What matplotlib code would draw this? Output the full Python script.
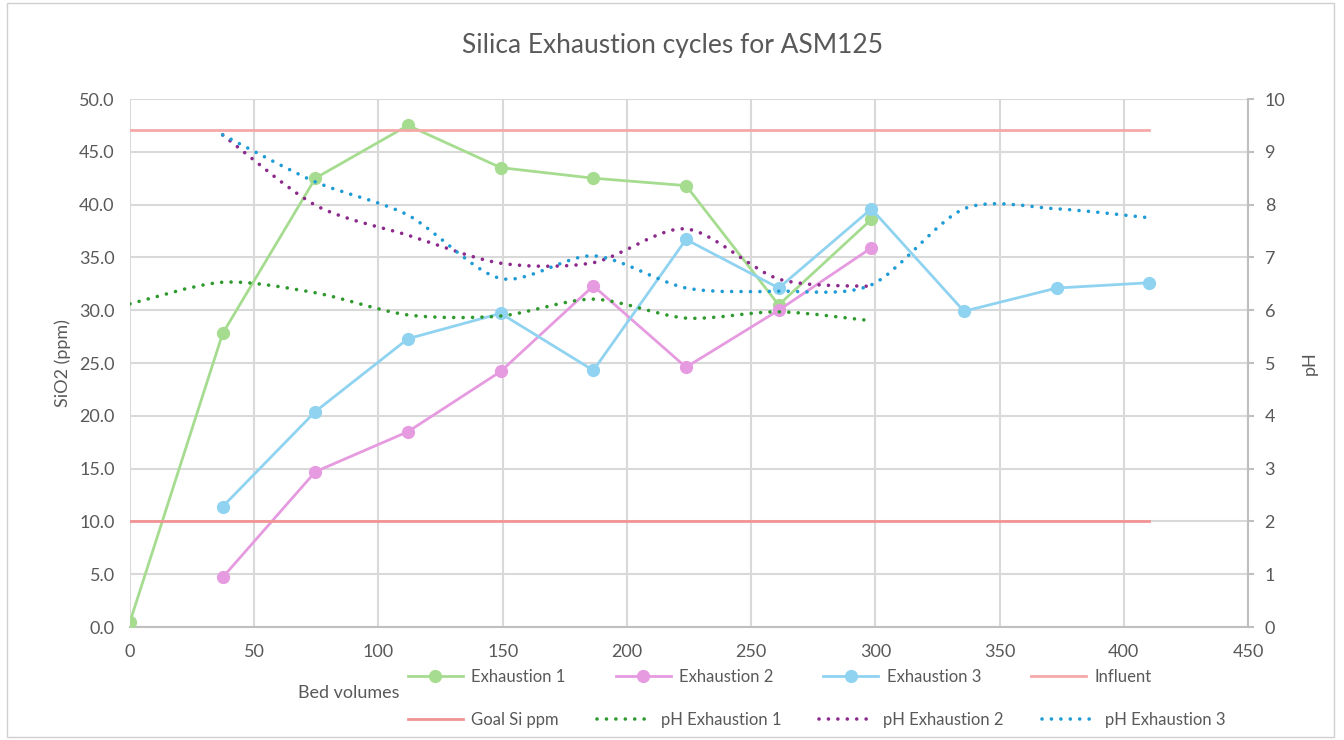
import numpy as np
import matplotlib
matplotlib.use("Agg")
import matplotlib.pyplot as plt
from matplotlib.path import Path
from matplotlib.patches import PathPatch, Rectangle
from matplotlib.lines import Line2D

plt.rcParams['font.family'] = ['Lato', 'DejaVu Sans']

bed_volumes = [0, 37.3, 74.6, 111.9, 149.2, 186.5, 223.8, 261.1, 298.4, 335.7, 373.0, 410.3]

exh1 = [0.5, 27.8, 42.5, 47.5, 43.5, 42.5, 41.8, 30.5, 38.6]
exh2 = [4.7, 14.7, 18.5, 24.2, 32.3, 24.6, 30.0, 35.9]
exh3 = [11.4, 20.4, 27.3, 29.7, 24.3, 36.7, 32.1, 39.6, 29.9, 32.1, 32.6]
influent = [47.1] * 12
goal = [10.0] * 12

ph1 = [6.12, 6.53, 6.33, 5.91, 5.89, 6.21, 5.85, 5.97, 5.80]
ph2 = [9.32, 7.99, 7.42, 6.89, 6.90, 7.54, 6.59, 6.45]
ph3 = [9.32, 8.43, 7.80, 6.60, 7.03, 6.42, 6.36, 6.48, 7.92, 7.92, 7.75]

GREEN = '#a6dc90'
PINK = '#e69be0'
BLUE = '#8fd3f1'
INFL = '#f5a8a8'
GOAL = '#f29494'
PH1 = '#2e9a2e'
PH2 = '#8c2a8c'
PH3 = '#1f9bd6'
GRID = '#d9d9d9'
TXT = '#595959'


def smooth_path(x, y):
    # Excel-like smoothed line: Catmull-Rom segments as cubic Beziers
    pts = np.column_stack([x, y]).astype(float)
    n = len(pts)
    verts = [pts[0]]
    codes = [Path.MOVETO]
    for i in range(n - 1):
        p0 = pts[i - 1] if i > 0 else pts[i]
        p1, p2 = pts[i], pts[i + 1]
        p3 = pts[i + 2] if i + 2 < n else pts[i + 1]
        verts += [p1 + (p2 - p0) / 7, p2 - (p3 - p1) / 7, p2]
        codes += [Path.CURVE4] * 3
    return Path(verts, codes)


fig = plt.figure(figsize=(13.44, 7.40), dpi=100)
fig.patches.append(Rectangle((7 / 1344, 3 / 740), 1327 / 1344, 734 / 740, transform=fig.transFigure,
                             fill=False, edgecolor='#d0d0d0', linewidth=1))
ax = fig.add_axes([130 / 1344, 1 - 627 / 740, 1118 / 1344, 528 / 740])
ax2 = ax.twinx()

line_kw = dict(linewidth=2.0, marker='o', markersize=8.5)
ax.plot(bed_volumes[:9], exh1, color=GREEN, **line_kw, zorder=3)
ax.plot(bed_volumes[1:9], exh2, color=PINK, **line_kw, zorder=3)
ax.plot(bed_volumes[1:], exh3, color=BLUE, **line_kw, zorder=3)
ax.plot(bed_volumes, influent, color=INFL, linewidth=2.0, zorder=4)
ax.plot(bed_volumes, goal, color=GOAL, linewidth=2.0, zorder=4)

dot = (0, (0.01, 2.6))
for xs, ys, c in [(bed_volumes[:9], ph1, PH1), (bed_volumes[1:9], ph2, PH2), (bed_volumes[1:], ph3, PH3)]:
    ax2.add_patch(PathPatch(smooth_path(xs, ys), fill=False, edgecolor=c, linewidth=2.6,
                            linestyle=dot, capstyle='round'))

ax.set_xlim(0, 450)
ax.set_ylim(0, 50)
ax2.set_ylim(0, 10)
ax.set_xticks(np.arange(0, 451, 50))
ax.set_yticks(np.arange(0, 50.1, 5))
ax.set_yticklabels([f'{v:.1f}' for v in np.arange(0, 50.1, 5)])
ax2.set_yticks(np.arange(0, 11, 1))

ax.grid(True, color=GRID, linewidth=1.5)
ax.set_axisbelow(True)
for s in ['top', 'left', 'right']:
    ax.spines[s].set_visible(False)
ax.spines['bottom'].set_color('#bfbfbf')
ax.spines['bottom'].set_linewidth(1.5)
for s in ['top', 'left', 'bottom']:
    ax2.spines[s].set_visible(False)
ax2.spines['right'].set_color('#bfbfbf')
ax2.spines['right'].set_linewidth(1.5)

ax.tick_params(axis='x', length=0, pad=12, labelsize=13, labelcolor=TXT)
ax.tick_params(axis='y', length=0, pad=11, labelsize=13, labelcolor=TXT)
ax2.tick_params(axis='y', length=4, width=1.5, color='#bfbfbf', pad=8, labelsize=13, labelcolor=TXT)

ax.set_ylabel('SiO2 (ppm)', fontsize=13, color=TXT, labelpad=6)
ax2.set_ylabel('pH', fontsize=13, color=TXT, labelpad=12, rotation=90)
fig.text(349 / 1344, 1 - 693 / 740, 'Bed volumes', fontsize=13, color=TXT, ha='center', va='center')
fig.text(0.5, 1 - 45 / 740, 'Silica Exhaustion cycles for ASM125', fontsize=19, color=TXT,
         ha='center', va='center')


def solid(c, mark=True):
    return Line2D([], [], color=c, linewidth=2.0, marker='o' if mark else None, markersize=8.5)


def dotted(c):
    return Line2D([], [], color=c, linewidth=2.6, linestyle=dot, dash_capstyle='round')


rows = [
    ([solid(GREEN), solid(PINK), solid(BLUE), solid(INFL, False)],
     ['Exhaustion 1', 'Exhaustion 2', 'Exhaustion 3', 'Influent'], 677, 3.0),
    ([solid(GOAL, False), dotted(PH1), dotted(PH2), dotted(PH3)],
     ['Goal Si ppm', 'pH Exhaustion 1', 'pH Exhaustion 2', 'pH Exhaustion 3'], 720, 2.3),
]
for hs, ls, ypix, spacing in rows:
    leg = fig.legend(hs, ls, ncol=4, loc='center left', bbox_to_anchor=(408 / 1344, 1 - ypix / 740),
                     frameon=False, fontsize=12, handlelength=3.3, handletextpad=0.5,
                     columnspacing=spacing, borderpad=0, borderaxespad=0)
    for t in leg.get_texts():
        t.set_color(TXT)

fig.savefig('out.png', dpi=100)
